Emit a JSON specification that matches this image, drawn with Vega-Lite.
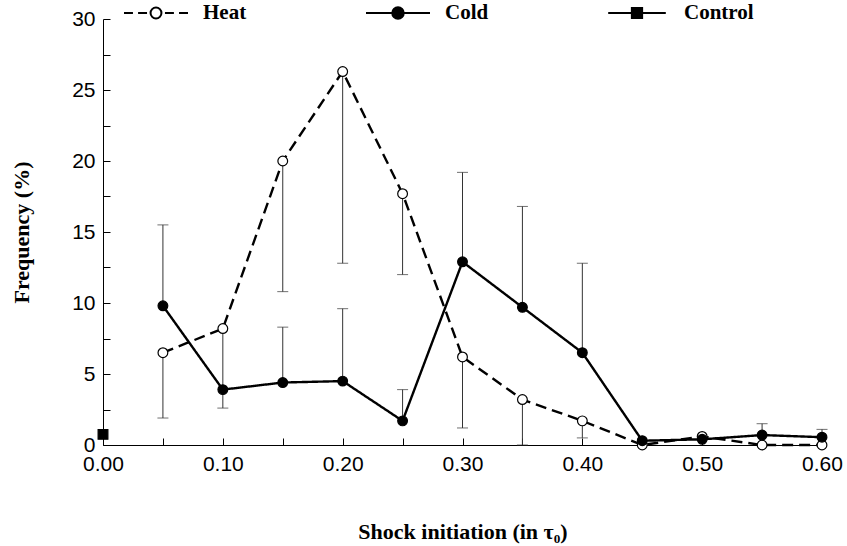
{
  "$schema": "https://vega.github.io/schema/vega-lite/v6.json",
  "width": 719,
  "height": 426,
  "autosize": "none",
  "padding": {"left": 103, "top": 19, "right": 25, "bottom": 101},
  "background": "white",
  "config": {
    "view": {"stroke": null},
    "axis": {
      "grid": false,
      "domainColor": "black",
      "tickColor": "black",
      "labelColor": "black",
      "titleColor": "black",
      "labelFont": "Liberation Sans",
      "labelFontSize": 21,
      "titleFont": "Liberation Serif",
      "titleFontWeight": "bold",
      "titleFontSize": 22
    },
    "legend": {
      "title": null,
      "orient": "none",
      "direction": "horizontal",
      "legendX": 20,
      "legendY": -39,
      "padding": 0,
      "columnPadding": 115,
      "labelOffset": 14,
      "labelFont": "Liberation Serif",
      "labelFontWeight": "bold",
      "labelFontSize": 21,
      "labelColor": "black",
      "symbolSize": 4096,
      "symbolStrokeWidth": 2
    }
  },
  "data": {
    "values": [
      {"series": "Heat", "t": 0.05, "freq": 6.5, "bar": 1.9},
      {"series": "Heat", "t": 0.10, "freq": 8.2, "bar": 2.6},
      {"series": "Heat", "t": 0.15, "freq": 20.0, "bar": 10.8},
      {"series": "Heat", "t": 0.20, "freq": 26.3, "bar": 12.8},
      {"series": "Heat", "t": 0.25, "freq": 17.7, "bar": 12.0},
      {"series": "Heat", "t": 0.30, "freq": 6.2, "bar": 1.2},
      {"series": "Heat", "t": 0.35, "freq": 3.2, "bar": 0.0},
      {"series": "Heat", "t": 0.40, "freq": 1.7, "bar": 0.5},
      {"series": "Heat", "t": 0.45, "freq": 0.0},
      {"series": "Heat", "t": 0.50, "freq": 0.6},
      {"series": "Heat", "t": 0.55, "freq": 0.0},
      {"series": "Heat", "t": 0.60, "freq": 0.0},
      {"series": "Cold", "t": 0.05, "freq": 9.8, "bar": 15.5},
      {"series": "Cold", "t": 0.10, "freq": 3.9},
      {"series": "Cold", "t": 0.15, "freq": 4.4, "bar": 8.3},
      {"series": "Cold", "t": 0.20, "freq": 4.5, "bar": 9.6},
      {"series": "Cold", "t": 0.25, "freq": 1.7, "bar": 3.9},
      {"series": "Cold", "t": 0.30, "freq": 12.9, "bar": 19.2},
      {"series": "Cold", "t": 0.35, "freq": 9.7, "bar": 16.8},
      {"series": "Cold", "t": 0.40, "freq": 6.5, "bar": 12.8},
      {"series": "Cold", "t": 0.45, "freq": 0.3},
      {"series": "Cold", "t": 0.50, "freq": 0.4},
      {"series": "Cold", "t": 0.55, "freq": 0.7, "bar": 1.5},
      {"series": "Cold", "t": 0.60, "freq": 0.55, "bar": 1.1},
      {"series": "Control", "t": 0.0, "freq": 0.75}
    ]
  },
  "encoding": {
    "x": {
      "field": "t",
      "type": "quantitative",
      "scale": {"domain": [0, 0.6], "nice": false, "zero": false},
      "axis": {
        "title": "Shock initiation (in τ₀)",
        "values": [0, 0.05, 0.1, 0.15, 0.2, 0.25, 0.3, 0.35, 0.4, 0.45, 0.5, 0.55, 0.6],
        "labelExpr": "round(datum.value*20) % 2 == 0 ? format(datum.value, '.2f') : ''",
        "tickSize": -7,
        "labelPadding": 15,
        "titlePadding": 47,
        "labelFlush": false,
        "labelOverlap": false
      }
    },
    "y": {
      "field": "freq",
      "type": "quantitative",
      "scale": {"domain": [0, 30], "nice": false},
      "axis": {
        "title": "Frequency (%)",
        "values": [0, 2.5, 5, 7.5, 10, 12.5, 15, 17.5, 20, 22.5, 25, 27.5, 30],
        "labelExpr": "datum.value % 5 == 0 ? datum.label : ''",
        "tickSize": -7,
        "labelPadding": 15,
        "titlePadding": 38,
        "labelOverlap": false
      }
    }
  },
  "layer": [
    {
      "transform": [{"filter": "isValid(datum.bar)"}],
      "mark": {"type": "rule", "color": "#333", "strokeWidth": 1},
      "encoding": {"y2": {"field": "bar"}}
    },
    {
      "transform": [{"filter": "isValid(datum.bar)"}],
      "mark": {"type": "tick", "orient": "horizontal", "color": "#333", "size": 11, "thickness": 1},
      "encoding": {"y": {"field": "bar", "type": "quantitative"}}
    },
    {
      "transform": [{"filter": "datum.series != 'Control'"}],
      "mark": {"type": "line", "color": "black", "strokeWidth": 2.4},
      "encoding": {
        "detail": {"field": "series"},
        "strokeDash": {
          "field": "series",
          "type": "nominal",
          "scale": {"domain": ["Heat", "Cold"], "range": [[11, 6], [1, 0]]},
          "legend": null
        }
      }
    },
    {
      "mark": {"type": "point", "filled": true, "stroke": "black", "strokeWidth": 1.2, "size": 95, "opacity": 1, "clip": false},
      "encoding": {
        "fill": {
          "field": "series",
          "type": "nominal",
          "scale": {"domain": ["Heat", "Cold", "Control"], "range": ["white", "black", "black"]},
          "legend": null
        },
        "shape": {
          "field": "series",
          "type": "nominal",
          "scale": {"domain": ["Heat", "Cold", "Control"], "range": ["circle", "circle", "square"]},
          "legend": null
        }
      }
    },
    {
      "transform": [{"filter": "false"}],
      "mark": {"type": "point", "filled": true, "strokeWidth": 2, "opacity": 1},
      "encoding": {
        "fill": {
          "field": "series",
          "type": "nominal",
          "scale": {"domain": ["Heat", "Cold", "Control"], "range": ["white", "black", "black"]}
        },
        "stroke": {
          "field": "series",
          "type": "nominal",
          "scale": {"domain": ["Heat", "Cold", "Control"], "range": ["black", "black", "black"]}
        },
        "shape": {
          "field": "series",
          "type": "nominal",
          "scale": {"domain": ["Heat", "Cold", "Control"], "range": ["M-1,0H-0.72M-0.56,0H-0.28M0.17,0A0.17,0.17,0,1,1,-0.17,0A0.17,0.17,0,1,1,0.17,0ZM0.28,0H0.56M0.72,0H1", "M-1,0H1M0.18,0A0.18,0.18,0,1,1,-0.18,0A0.18,0.18,0,1,1,0.18,0Z", "M-0.9,0H0.9M-0.16,-0.16H0.16V0.16H-0.16Z"]}
        }
      }
    }
  ],
  "resolve": {
    "scale": {"shape": "independent", "fill": "independent", "stroke": "independent"},
    "legend": {"shape": "independent", "fill": "independent", "stroke": "independent"}
  }
}
